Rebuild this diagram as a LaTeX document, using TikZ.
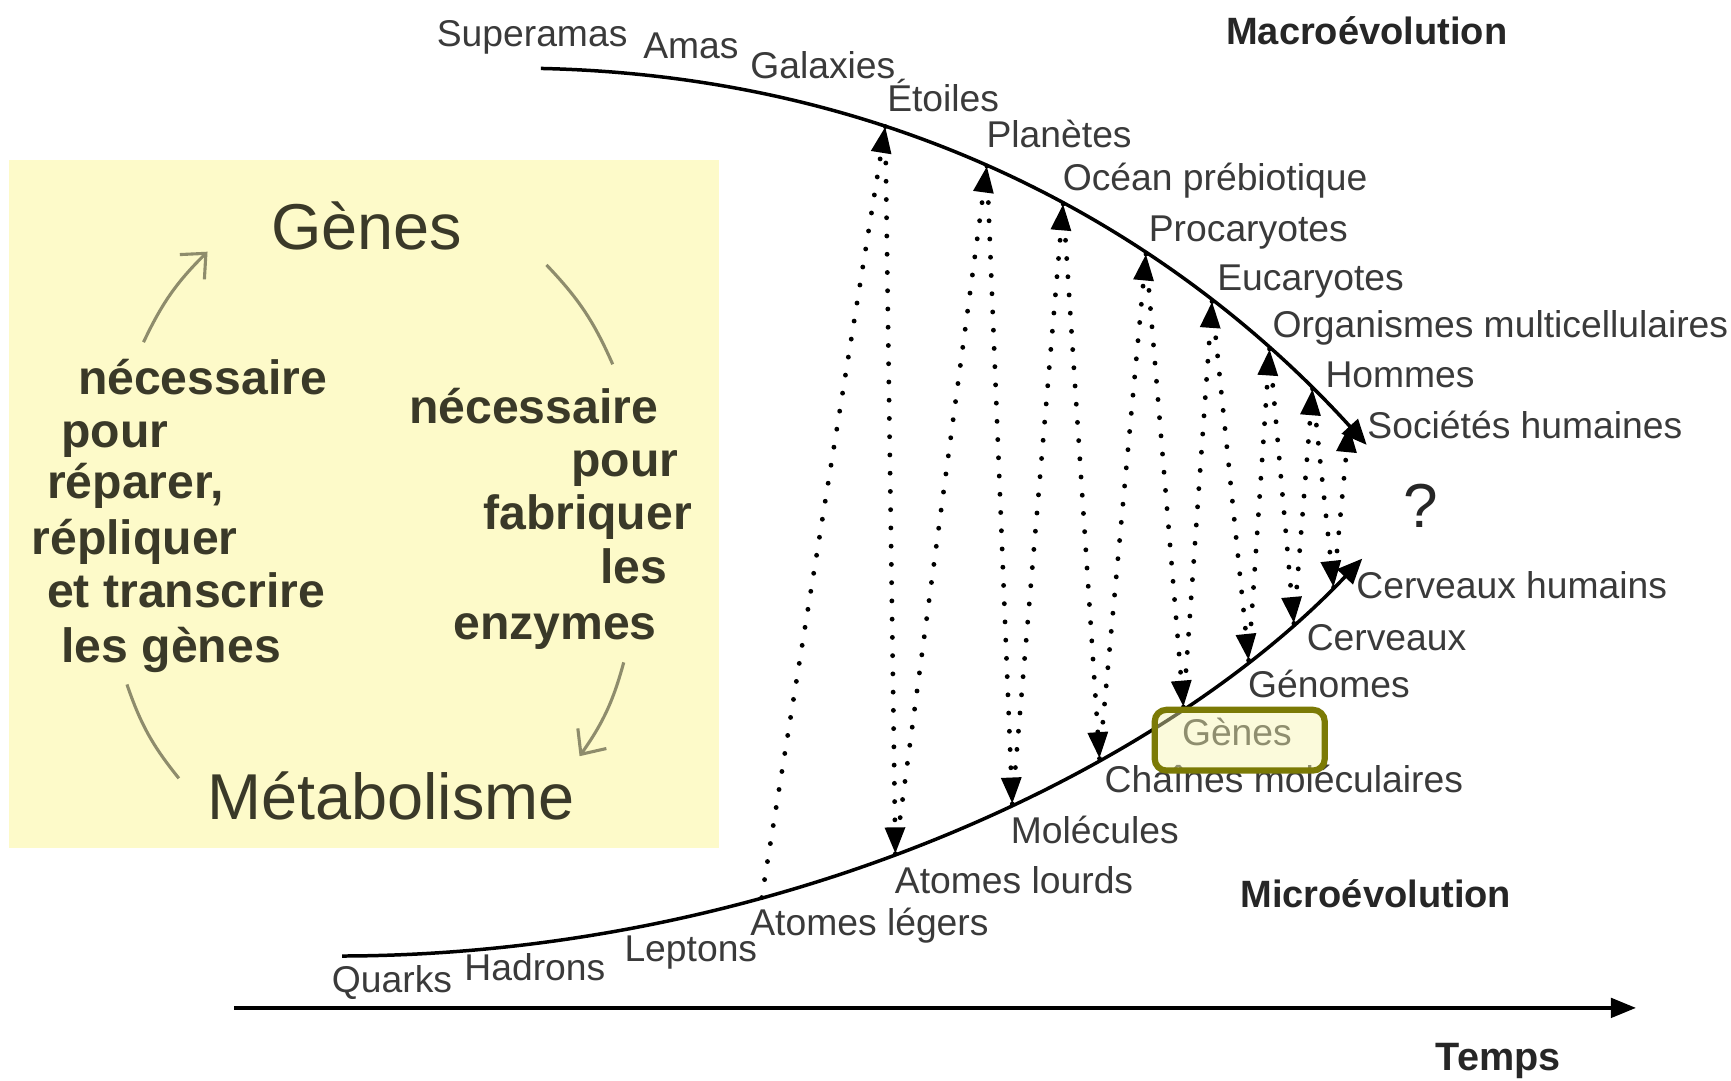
\documentclass[tikz,border=0pt]{standalone}
\usepackage{fontspec}
\setmainfont{Liberation Sans}
\usetikzlibrary{arrows.meta,intersections}

\definecolor{boxfill}{HTML}{FDFAC9}
\definecolor{boxtext}{HTML}{3A3928}
\definecolor{boxarrow}{HTML}{8E8C6C}
\definecolor{lbl}{HTML}{3A3A3A}
\definecolor{olivec}{HTML}{7B7A05}
\definecolor{hlfill}{HTML}{F8F6B0}

\begin{document}
\begin{tikzpicture}[x=0.01cm,y=-0.01cm,
  labt/.style={anchor=base west, inner sep=0, text=lbl, font=\fontsize{9.6}{11}\selectfont},
  headt/.style={anchor=base west, inner sep=0, text=black!85, font=\fontsize{9.8}{11}\selectfont\bfseries},
  boxt/.style={anchor=base west, inner sep=0, text=boxtext, font=\fontsize{12.4}{14}\selectfont\bfseries},
  bigt/.style={anchor=base west, inner sep=0, text=boxtext, font=\fontsize{16.7}{19}\selectfont},
  evcurve/.style={line width=0.9pt, black},
  dotl/.style={line width=1.25pt, line cap=round, dash pattern=on 0pt off 4.7pt, black},
  dtip/.style={-{Triangle[length=6.8pt,width=5pt]}},
  cyc/.style={line width=0.8pt, boxarrow},
  cyctip/.style={-{Straight Barb[length=5pt,width=9pt]}},
]
\useasboundingbox (0,0) rectangle (1568,979);
\fill[white] (0,0) rectangle (1568,979);

% left box
\fill[boxfill] (8,145) rectangle (651,768);
\node[bigt] (genes) at (245,226) {Gènes};
\node[bigt] (metab) at (187,742) {Métabolisme};

\node[boxt] (l1) at (70,357) {nécessaire};
\node[boxt] (l2) at (55,405) {pour};
\node[boxt] (l3) at (42,452) {réparer,};
\node[boxt] (l4) at (28,502) {répliquer};
\node[boxt] (l5) at (42,550) {et transcrire};
\node[boxt] (l6) at (55,600) {les gènes};

\node[boxt] (r1) at (370,384) {nécessaire};
\node[boxt] (r2) at (517,432) {pour};
\node[boxt] (r3) at (437,480) {fabriquer};
\node[boxt] (r4) at (543,529) {les};
\node[boxt] (r5) at (410,579) {enzymes};

\coordinate (ca1) at (130,310); \coordinate (ca2) at (188,228);
\coordinate (cb1) at (495,240); \coordinate (cb2) at (555,330);
\coordinate (cc1) at (565,600); \coordinate (cc2) at (525,685);
\coordinate (cd1) at (162,705); \coordinate (cd2) at (115,620);
\draw[cyc, cyctip] (ca1) to[bend left=10] (ca2);
\draw[cyc] (cb1) to[bend left=10] (cb2);
\draw[cyc, cyctip] (cc1) to[bend left=10] (cc2);
\draw[cyc] (cd1) to[bend left=10] (cd2);

% curves
\coordinate (us) at (490,62); \coordinate (ue) at (1238,403);
\coordinate (ls) at (310,866); \coordinate (le) at (1234,506);
\draw[evcurve, name path=up, -{Triangle[length=6.5pt,width=5.5pt]}]
  (us) .. controls (850,70) and (1090,240) .. (ue);
\draw[evcurve, name path=low, -{Triangle[length=6.5pt,width=5.5pt]}]
  (ls) .. controls (700,865) and (1050,700) .. (le);

\foreach \n/\x in {1/802,2/894,3/963,4/1038,5/1098,6/1150,7/1189,8/1222}{
  \path[name path=vu] (\x,0) -- (\x,979);
  \path[name intersections={of=up and vu, by={U\n}}];
}
\foreach \n/\x in {0/690,1/811,2/917,3/996,4/1072,5/1131,6/1172,7/1208}{
  \path[name path=vl] (\x,0) -- (\x,979);
  \path[name intersections={of=low and vl, by={L\n}}];
}

% dotted links
\foreach \i [evaluate=\i as \j using int(\i-1)] in {1,...,7}{
  \draw[dotl, dtip] (L\j) -- (U\i);
  \draw[dotl, dtip] (U\i) -- (L\i);
}
\draw[dotl, dtip] (L7) -- (U8);

% upper labels
\node[labt] (n1) at (395,42) {Superamas};
\node[labt] (n2) at (582,53) {Amas};
\node[labt] (n3) at (679,71) {Galaxies};
\node[labt] (n4) at (803,101) {Étoiles};
\node[labt] (n5) at (893,134) {Planètes};
\node[labt] (n6) at (962,173) {Océan prébiotique};
\node[labt] (n7) at (1040,219) {Procaryotes};
\node[labt] (n8) at (1102,263) {Eucaryotes};
\node[labt] (n9) at (1152,306) {Organismes multicellulaires};
\node[labt] (n10) at (1200,351) {Hommes};
\node[labt] (n11) at (1238,397) {Sociétés humaines};

% lower labels
\node[labt] (m1) at (1228,542) {Cerveaux humains};
\node[labt] (m2) at (1183,589) {Cerveaux};
\node[labt] (m3) at (1130,632) {Génomes};
\node[labt] (m4) at (1070,675) {Gènes};
\node[labt] (m5) at (1000,718) {Chaînes moléculaires};
\node[labt] (m6) at (915,764) {Molécules};
\node[labt] (m7) at (810,809) {Atomes lourds};
\node[labt] (m8) at (679,847) {Atomes légers};
\node[labt] (m9) at (565,871) {Leptons};
\node[labt] (m10) at (420,888) {Hadrons};
\node[labt] (m11) at (300,899) {Quarks};

% highlight
\draw[olivec, line width=1.6pt, fill=hlfill, fill opacity=0.45, rounded corners=3pt]
  (1046,643) rectangle (1200,698);

\node[headt] (macro) at (1110,40) {Macroévolution};
\node[headt] (micro) at (1123,822) {Microévolution};
\node[font=\fontsize{16}{18}\selectfont, text=black!85] (q) at (1287,458) {?};

% time axis
\coordinate (t0) at (212,913); \coordinate (t1) at (1482,913);
\draw[line width=1pt, -{Triangle[length=6.5pt,width=5pt]}] (t0) -- (t1);
\node[headt, font=\fontsize{10.2}{12}\selectfont\bfseries] (temps) at (1300,970) {Temps};
\end{tikzpicture}
\end{document}
